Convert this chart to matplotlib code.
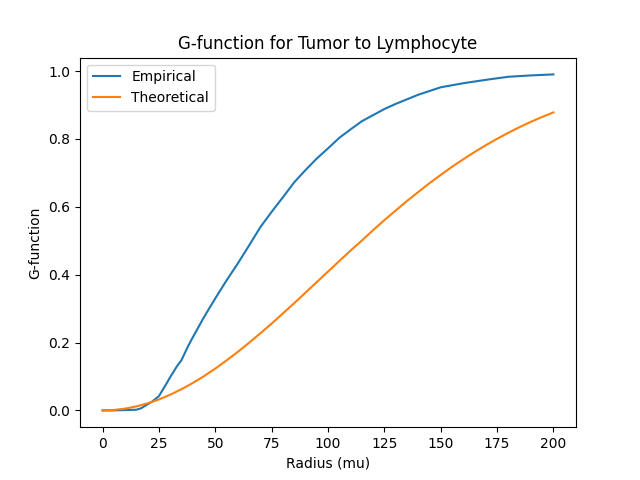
import matplotlib
matplotlib.use("Agg")
import matplotlib.pyplot as plt

radius_emp = [0, 5, 10, 15, 17, 20, 22, 25, 28, 30, 33, 35, 38, 40, 45, 50, 55, 60, 65, 70, 75, 80,
              85, 90, 95, 100, 105, 110, 115, 120, 125, 130, 140, 150, 160, 170, 180, 190, 200]
g_emp = [0.0, 0.0, 0.001, 0.002, 0.006, 0.018, 0.026, 0.042, 0.075, 0.098, 0.13, 0.148, 0.19,
         0.215, 0.275, 0.33, 0.383, 0.433, 0.486, 0.54, 0.585, 0.628, 0.672, 0.708, 0.742,
         0.772, 0.803, 0.828, 0.852, 0.87, 0.888, 0.903, 0.93, 0.952, 0.964, 0.974, 0.983,
         0.987, 0.99]

radius_theo = [0, 5, 10, 15, 20, 25, 30, 35, 40, 45, 50, 55, 60, 65, 70, 75, 80, 85, 90, 95,
               100, 105, 110, 115, 120, 125, 130, 135, 140, 145, 150, 155, 160, 165, 170,
               175, 180, 185, 190, 195, 200]
g_theo = [0.0, 0.0013, 0.0052, 0.0118, 0.0208, 0.0323, 0.0462, 0.0624, 0.0807, 0.1010,
          0.1232, 0.1473, 0.1725, 0.1993, 0.2272, 0.2558, 0.2858, 0.3159, 0.3469, 0.3780,
          0.409, 0.4401, 0.4709, 0.5003, 0.5311, 0.5606, 0.5889, 0.6169, 0.6433, 0.6694,
          0.6938, 0.7177, 0.7399, 0.7613, 0.7813, 0.8003, 0.8181, 0.8348, 0.8503, 0.8647,
          0.878]

fig, ax = plt.subplots(figsize=(6.4, 4.8), dpi=100)
ax.plot(radius_emp, g_emp, label="Empirical")
ax.plot(radius_theo, g_theo, label="Theoretical")
ax.set_title("G-function for Tumor to Lymphocyte")
ax.set_xlabel("Radius (mu)")
ax.set_ylabel("G-function")
ax.legend(loc="upper left")
fig.savefig("out.png")
